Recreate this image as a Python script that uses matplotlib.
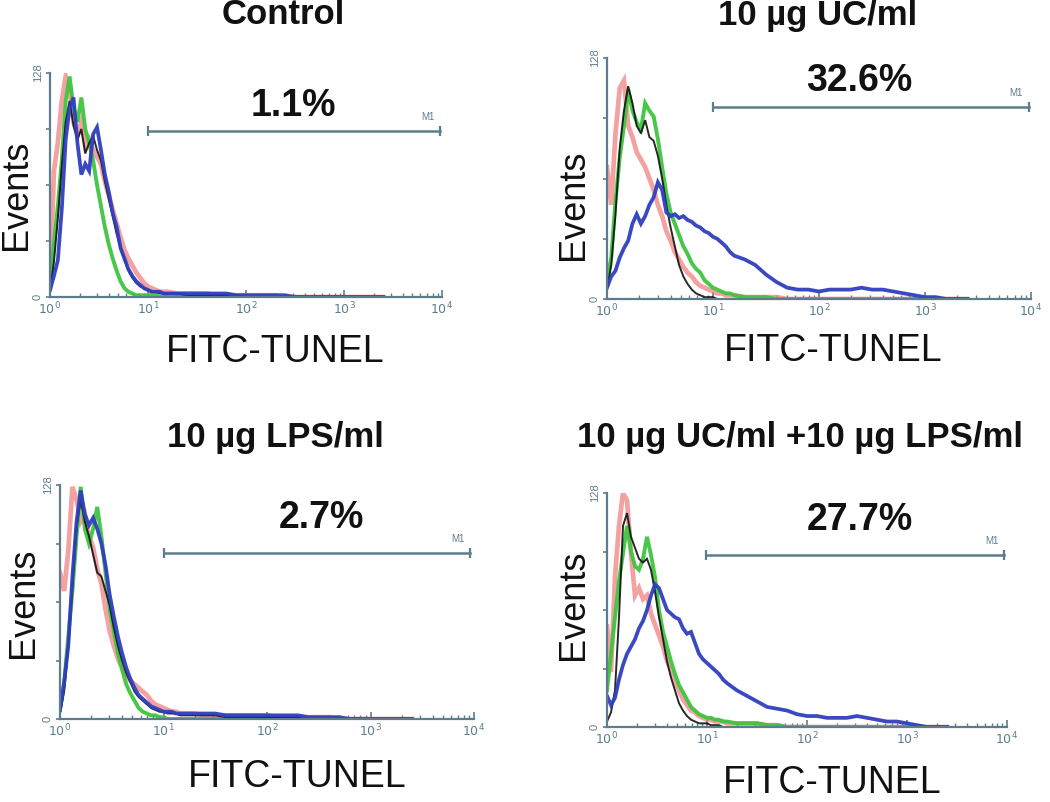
import matplotlib
matplotlib.use("Agg")
import matplotlib.pyplot as plt
import numpy as np

plt.rcParams['font.family'] = ['Liberation Sans', 'DejaVu Sans']

# log10 fluorescence channel positions (decades), shared by all histograms
LOG_BINS = [0.00, 0.04, 0.08, 0.12, 0.16, 0.20, 0.24, 0.28, 0.32, 0.36,
            0.40, 0.44, 0.48, 0.52, 0.56, 0.60, 0.64, 0.68, 0.72, 0.76,
            0.80, 0.84, 0.88, 0.92, 0.96, 1.00, 1.04, 1.08, 1.12, 1.16,
            1.20, 1.3, 1.4, 1.5, 1.6, 1.7, 1.8, 1.9, 2.0, 2.1, 2.2, 2.3,
            2.4, 2.5, 2.6, 2.7, 2.8, 2.9, 3.0, 3.1, 3.2, 3.3, 3.4]

titles = ["Control", "10 µg UC/ml", "10 µg LPS/ml", "10 µg UC/ml +10 µg LPS/ml"]
percents = ["1.1%", "32.6%", "2.7%", "27.7%"]

# Control
ctrl_red = [5, 72, 88, 112, 126, 118, 100, 92, 100, 86, 90, 84, 80, 76, 66, 58, 50, 42, 34, 27,
            22, 18, 14, 11, 8, 6, 5, 4, 3, 3, 3,
            2, 2, 2, 2, 1, 1, 1, 1, 1, 1, 1, 0, 0, 0, 0, 0, 0, 0, 0, 0, 0, 0]
ctrl_green = [6, 30, 52, 78, 112, 126, 108, 100, 114, 96, 88, 78, 64, 52, 40, 30, 22, 15, 9, 5,
              3, 2, 1, 1, 1, 1, 1, 1, 0, 0, 0,
              0, 0, 0, 0, 0, 0, 0, 0, 0, 0, 0, 0, 0, 0, 0, 0, 0, 0, 0, 0, 0, 0]
ctrl_black = [3, 20, 45, 75, 100, 112, 98, 90, 96, 82, 88, 92, 84, 78, 66, 56, 46, 36, 28, 21,
              15, 11, 8, 6, 5, 4, 3, 3, 2, 2, 2,
              2, 1, 1, 1, 1, 1, 1, 0, 0, 0, 0, 0, 0, 0, 0, 0, 0, 0, 0, 0, 0, 0]
ctrl_blue = [4, 12, 21, 50, 90, 108, 114, 88, 70, 76, 72, 93, 97, 84, 70, 60, 48, 40, 28, 22,
             16, 12, 9, 7, 5, 4, 3, 3, 3, 2, 2,
             2, 2, 2, 2, 2, 2, 1, 1, 1, 1, 1, 1, 0, 0, 0, 0, 0, 0, 0, 0, 0, 0]

# 10 ug UC/ml
uc_red = [70, 50, 88, 112, 116, 92, 86, 78, 74, 70, 64, 58, 50, 44, 36, 31, 25, 21, 17, 14,
          12, 9, 7, 6, 5, 4, 3, 3, 2, 2, 2,
          1, 1, 1, 1, 0, 0, 0, 0, 0, 0, 0, 0, 0, 0, 0, 0, 0, 0, 0, 0, 0, 0]
uc_green = [10, 22, 52, 75, 92, 111, 100, 94, 90, 104, 100, 97, 85, 70, 56, 46, 40, 34, 28, 24,
            19, 16, 14, 10, 8, 6, 5, 4, 3, 3, 2,
            1, 1, 1, 0, 0, 0, 0, 0, 0, 0, 0, 0, 0, 0, 0, 0, 0, 0, 0, 0, 0, 0]
uc_black = [5, 18, 45, 80, 100, 113, 104, 92, 88, 95, 86, 84, 76, 64, 50, 38, 28, 18, 12, 8,
            5, 3, 2, 1, 1, 1, 0, 0, 0, 0, 0,
            0, 0, 0, 0, 0, 0, 0, 0, 0, 0, 0, 0, 0, 0, 0, 0, 0, 0, 0, 0, 0, 0]
uc_blue = [6, 12, 15, 22, 27, 31, 40, 45, 40, 44, 50, 54, 62, 58, 46, 44, 45, 43, 44, 42,
           41, 39, 38, 36, 35, 33, 32, 30, 28, 25, 23,
           21, 18, 13, 9, 6, 5, 5, 4, 5, 5, 5, 6, 5, 5, 4, 3, 2, 1, 1, 0, 0, 0]

# 10 ug LPS/ml
lps_red = [80, 70, 92, 127, 120, 108, 112, 100, 94, 82, 74, 60, 48, 40, 33, 28, 24, 21, 19, 17,
           15, 13, 10, 8, 7, 6, 5, 4, 4, 3, 3,
           3, 2, 2, 2, 2, 2, 2, 2, 1, 1, 1, 1, 1, 1, 0, 0, 0, 0, 0, 0, 0, 0]
lps_green = [5, 20, 45, 70, 100, 127, 104, 96, 104, 116, 100, 80, 60, 48, 36, 27, 19, 14, 10, 6,
             4, 3, 2, 2, 1, 1, 0, 0, 0, 0, 0,
             0, 0, 0, 0, 0, 0, 0, 0, 0, 0, 0, 0, 0, 0, 0, 0, 0, 0, 0, 0, 0, 0]
lps_black = [3, 15, 40, 72, 105, 120, 108, 100, 90, 80, 78, 70, 62, 50, 40, 32, 25, 20, 15, 12,
             10, 8, 6, 5, 4, 4, 3, 3, 3, 2, 2,
             2, 2, 2, 1, 1, 1, 1, 1, 1, 1, 1, 0, 0, 0, 0, 0, 0, 0, 0, 0, 0, 0]
lps_blue = [5, 20, 40, 78, 108, 125, 112, 106, 110, 104, 96, 84, 68, 56, 45, 36, 28, 22, 17, 13,
            11, 9, 7, 6, 5, 4, 4, 4, 3, 3, 3,
            3, 3, 3, 2, 2, 2, 2, 2, 2, 2, 2, 1, 1, 1, 1, 0, 0, 0, 0, 0, 0, 0]

# 10 ug UC/ml + 10 ug LPS/ml
mix_red = [55, 30, 82, 110, 128, 124, 95, 72, 76, 70, 72, 62, 56, 50, 44, 36, 31, 25, 20, 15,
           12, 9, 8, 6, 5, 4, 4, 3, 3, 3, 2,
           2, 2, 2, 1, 1, 0, 0, 0, 0, 0, 0, 0, 0, 0, 0, 0, 0, 0, 0, 0, 0, 0]
mix_green = [20, 40, 60, 80, 95, 110, 96, 88, 86, 92, 104, 94, 82, 64, 52, 44, 36, 29, 23, 19,
             15, 11, 9, 7, 6, 5, 5, 4, 4, 3, 3,
             2, 2, 2, 1, 1, 0, 0, 0, 0, 0, 0, 0, 0, 0, 0, 0, 0, 0, 0, 0, 0, 0]
mix_black = [3, 8, 20, 60, 110, 117, 104, 98, 92, 90, 92, 86, 74, 60, 48, 36, 27, 20, 13, 9,
             6, 4, 3, 2, 2, 2, 1, 1, 1, 0, 0,
             0, 0, 0, 0, 0, 0, 0, 0, 0, 0, 0, 0, 0, 0, 0, 0, 0, 0, 0, 0, 0, 0]
mix_blue = [17, 12, 16, 26, 34, 40, 44, 48, 54, 58, 64, 72, 78, 76, 70, 64, 62, 60, 59, 54,
            51, 52, 46, 40, 37, 35, 33, 31, 29, 26, 24,
            20, 17, 14, 11, 10, 9, 7, 6, 6, 5, 5, 5, 6, 5, 4, 3, 3, 2, 1, 0, 0, 0]

panels = [
    [ctrl_red, ctrl_green, ctrl_black, ctrl_blue],
    [uc_red, uc_green, uc_black, uc_blue],
    [lps_red, lps_green, lps_black, lps_blue],
    [mix_red, mix_green, mix_black, mix_blue],
]

W, H = 1050, 802
fig = plt.figure(figsize=(W / 100, H / 100), dpi=100)
fig.patch.set_facecolor('white')

# axes boxes in pixels: left, top, right, bottom
boxes = [(50, 73, 442, 297), (607, 58, 1031, 299),
         (60, 485, 474, 719), (607, 493, 1007, 727)]
title_pos = [(283, 15), (818, 15), (275, 437), (800, 437)]
events_pos = [(17, 195), (574, 205), (24, 603), (573, 605)]
fitc_pos = [(275, 352), (833, 351), (297, 777), (832, 783)]
pct_pos = [(293, 106), (859, 81), (321, 518), (860, 520)]
bar_y = [95, 102, 91, 94]
bar_x = [(1.0, 3.98), (1.0, 3.98), (1.0, 3.96), (0.99, 3.97)]

styles = [dict(color='#f07a7a', lw=3.4, alpha=0.7),
          dict(color='#3ec43e', lw=2.8, alpha=0.95),
          dict(color='#111111', lw=1.4, alpha=0.9),
          dict(color='#2f3fbf', lw=2.7, alpha=0.95)]

axis_col = '#5d7d8c'
x = 10 ** np.array(LOG_BINS)


def fx(px):
    return px / W


def fy(py):
    return 1 - py / H


for i, curves in enumerate(panels):
    l, t, r, b = boxes[i]
    ax = fig.add_axes([l / W, 1 - b / H, (r - l) / W, (b - t) / H])
    for ys, st in zip(curves, styles):
        ax.plot(x, ys, solid_joinstyle='miter', **st)
    ax.set_xscale('log')
    ax.set_xlim(1, 1e4)
    ax.set_ylim(0, 128)
    for s in ['top', 'right']:
        ax.spines[s].set_visible(False)
    for s in ['left', 'bottom']:
        ax.spines[s].set_color(axis_col)
        ax.spines[s].set_linewidth(1.6)
    ax.set_xticks([1, 10, 100, 1000, 10000])
    ax.set_xticklabels([r'$10^{0}$', r'$10^{1}$', r'$10^{2}$', r'$10^{3}$', r'$10^{4}$'])
    ax.tick_params(axis='x', which='major', direction='in', length=5, width=1.2,
                   colors=axis_col, labelsize=9, pad=3)
    ax.tick_params(axis='x', which='minor', direction='in', length=3, width=1,
                   colors=axis_col)
    ax.set_yticks([0, 32, 64, 96, 128])
    ax.set_yticklabels(['0', '', '', '', '128'], rotation=90, va='center')
    ax.tick_params(axis='y', direction='out', length=3, width=1.2,
                   colors=axis_col, labelsize=8, pad=2)

    # M1 marker bar
    u0, u1 = bar_x[i]
    ax.plot([10 ** u0, 10 ** u1], [bar_y[i], bar_y[i]], color=axis_col, lw=1.8,
            marker='|', ms=7, mew=1.6, clip_on=False)
    ax.text(10 ** (u1 - 0.12), bar_y[i] + 5, 'M1', color=axis_col, fontsize=7,
            ha='center', va='bottom')

    tx, ty = title_pos[i]
    fig.text(fx(tx), fy(ty), titles[i], ha='center', va='center',
             fontsize=25, fontweight='bold', color='#111111')
    ex, ey = events_pos[i]
    fig.text(fx(ex), fy(ey), 'Events', ha='center', va='center', rotation=90,
             fontsize=26, color='#111111')
    cx, cy = fitc_pos[i]
    fig.text(fx(cx), fy(cy), 'FITC-TUNEL', ha='center', va='center',
             fontsize=27, color='#111111')
    px_, py_ = pct_pos[i]
    fig.text(fx(px_), fy(py_), percents[i], ha='center', va='center',
             fontsize=27, fontweight='bold', color='#111111')

fig.savefig('out.png', dpi=100, facecolor='white')
